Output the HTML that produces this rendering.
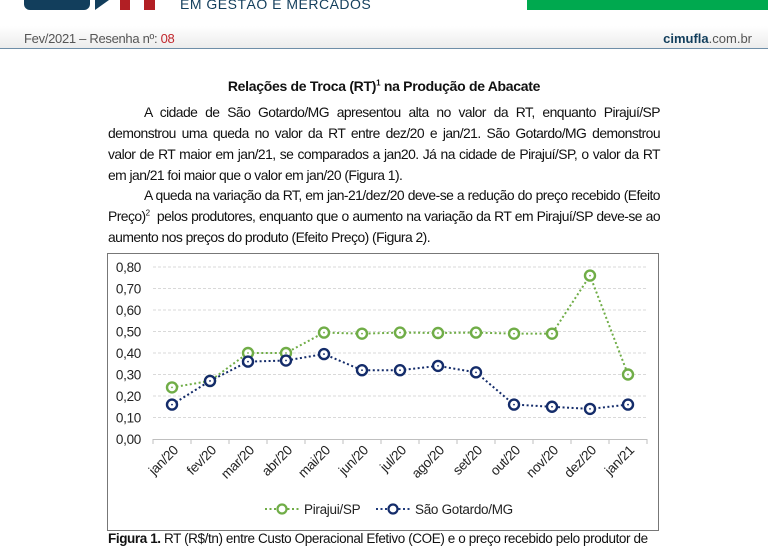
<!DOCTYPE html>
<html><head><meta charset="utf-8">
<style>
body{margin:0;width:768px;height:539px;overflow:hidden;background:#fff;font-family:"Liberation Sans",sans-serif;position:relative;color:#111}
.abs{position:absolute}
.line{position:absolute;left:108px;width:552px;font-size:13.9px;letter-spacing:-0.55px;white-space:nowrap;text-align:justify;text-align-last:justify}
.last{text-align-last:left}
</style></head><body>
<div class="abs" style="left:24px;top:0;width:66px;height:10px;background:#123e5c;border-radius:0 0 6px 6px"></div>
<div class="abs" style="left:95px;top:0;width:14px;height:10px;background:#123e5c;clip-path:polygon(0 0,100% 0,0 100%)"></div>
<div class="abs" style="left:120px;top:0;width:10px;height:10px;background:#b21f24"></div>
<div class="abs" style="left:144px;top:0;width:11px;height:10px;background:#b21f24"></div>
<div class="abs" style="left:180px;top:-4px;font-size:14px;color:#123e5c;letter-spacing:0.5px">EM GESTÃO E MERCADOS</div>
<div class="abs" style="left:527px;top:0;width:241px;height:10px;background:#00a94f"></div>
<div class="abs" style="left:0;top:26px;width:768px;height:22px;background:linear-gradient(#fff,#ececec);border-bottom:1.5px solid #6e8ea8"></div>
<div class="abs" style="left:24px;top:31px;font-size:13px;color:#555;letter-spacing:-0.3px">Fev/2021 – Resenha nº: <span style="color:#c1272d">08</span></div>
<div class="abs" style="right:16px;top:31px;font-size:13px;color:#555"><b style="color:#123e5c">cimufla</b>.com.br</div>
<div class="abs" style="left:0;width:768px;top:78px;text-align:center;font-size:14px;font-weight:bold;letter-spacing:-0.3px">Relações de Troca (RT)<sup style="font-size:8px">1</sup> na Produção de Abacate</div>
<div>
<div class="line" style="top:104px;padding-left:36px;width:516px">A cidade de São Gotardo/MG apresentou alta no valor da RT, enquanto Pirajuí/SP</div>
<div class="line" style="top:125px">demonstrou uma queda no valor da RT entre dez/20 e jan/21. São Gotardo/MG demonstrou</div>
<div class="line" style="top:146px">valor de RT maior em jan/21, se comparados a jan20. Já na cidade de Pirajuí/SP, o valor da RT</div>
<div class="line last" style="top:167px">em jan/21 foi maior que o valor em jan/20 (Figura 1).</div>
<div class="line" style="top:187px;padding-left:36px;width:516px">A queda na variação da RT, em jan-21/dez/20 deve-se a redução do preço recebido (Efeito</div>
<div class="line" style="top:208px">Preço)<sup style="font-size:8px">2</sup>&nbsp; pelos produtores, enquanto que o aumento na variação da RT em Pirajuí/SP deve-se ao</div>
<div class="line last" style="top:229px">aumento nos preços do produto (Efeito Preço) (Figura 2).</div>
</div>
<svg class="abs" style="left:0;top:0" width="768" height="539" font-family="Liberation Sans, sans-serif">
<rect x="107.5" y="253.5" width="551" height="277" fill="#fff" stroke="#777"/>
<g id="grid"></g><g id="axes"></g><g id="series"></g>
<g font-size="13.5" fill="#222" letter-spacing="-0.3">
<line x1="265" y1="509" x2="300" y2="509" stroke="#70ad47" stroke-width="2" stroke-dasharray="2,2.5"/>
<circle cx="282" cy="509" r="4.5" fill="#fff" stroke="#70ad47" stroke-width="2.2"/>
<text x="304" y="514">Pirajui/SP</text>
<line x1="376" y1="509" x2="411" y2="509" stroke="#1f3a7a" stroke-width="2" stroke-dasharray="2,2.5"/>
<circle cx="393" cy="509" r="4.5" fill="#fff" stroke="#142c6a" stroke-width="2.2"/>
<text x="415" y="514">São Gotardo/MG</text>
</g>
</svg>
<div class="abs" style="left:108px;top:531px;font-size:13.5px;letter-spacing:-0.4px;white-space:nowrap"><b>Figura 1.</b> RT (R$/tn) entre Custo Operacional Efetivo (COE) e o preço recebido pelo produtor de</div>
<script>
const categories=["jan/20","fev/20","mar/20","abr/20","mai/20","jun/20","jul/20","ago/20","set/20","out/20","nov/20","dez/20","jan/21"];
const pirajui=[0.24,0.27,0.40,0.40,0.495,0.49,0.495,0.493,0.495,0.49,0.49,0.76,0.30];
const saoGotardo=[0.16,0.27,0.36,0.365,0.395,0.32,0.32,0.34,0.31,0.16,0.15,0.14,0.16];
const yTicks=[0,0.1,0.2,0.3,0.4,0.5,0.6,0.7,0.8];
const NS="http://www.w3.org/2000/svg";
const x0=153,x1=647,y0=439,y1=267,ymax=0.8;
const bw=(x1-x0)/categories.length;
const xs=i=>x0+bw*(i+0.5);
const ys=v=>y0-(v/ymax)*(y0-y1);
function mk(t,a,p){const e=document.createElementNS(NS,t);for(const k in a)e.setAttribute(k,a[k]);p.appendChild(e);return e;}
const grid=document.getElementById('grid'),axes=document.getElementById('axes'),series=document.getElementById('series');
yTicks.forEach(v=>{
 if(v>0){const g=mk('line',{x1:x0,x2:x1,y1:ys(v),y2:ys(v),stroke:'#d9d9d9','stroke-dasharray':'3,2'},grid);
 
 }
 const t=mk('text',{x:141,y:ys(v)+5,'text-anchor':'end','font-size':'13.5',fill:'#222','letter-spacing':'-0.3'},axes);
 t.textContent=v.toFixed(2).replace('.',',');
 
 
});
mk('line',{x1:x0,x2:x1,y1:y0+0.5,y2:y0+0.5,stroke:'#bfbfbf'},axes);
for(let i=0;i<=categories.length;i++){mk('line',{x1:x0+bw*i,x2:x0+bw*i,y1:y0,y2:y0+5,stroke:'#bfbfbf'},axes);}
categories.forEach((c,i)=>{
 const t=mk('text',{x:xs(i)+7,y:y0+12,'text-anchor':'end','font-size':'13.5',fill:'#222','letter-spacing':'-0.3',transform:`rotate(-45 ${xs(i)+7} ${y0+12})`},axes);
 t.textContent=c;
 
 
});
function draw(vals,color,name){
 const p=mk('polyline',{points:vals.map((v,i)=>xs(i)+','+ys(v)).join(' '),fill:'none',stroke:color,'stroke-width':2,'stroke-dasharray':'2,2.5'},series);
 
 
 vals.forEach((v,i)=>{
  const c=mk('circle',{cx:xs(i),cy:ys(v),r:5,fill:'#fff',stroke:color,'stroke-width':2.4},series);
  
  
  mk('circle',{cx:xs(i),cy:ys(v),r:0.9,fill:color},series);
 });
}
draw(pirajui,'#70ad47','pirajui');
draw(saoGotardo,'#142c6a','sao-gotardo');
</script>
</body></html>
